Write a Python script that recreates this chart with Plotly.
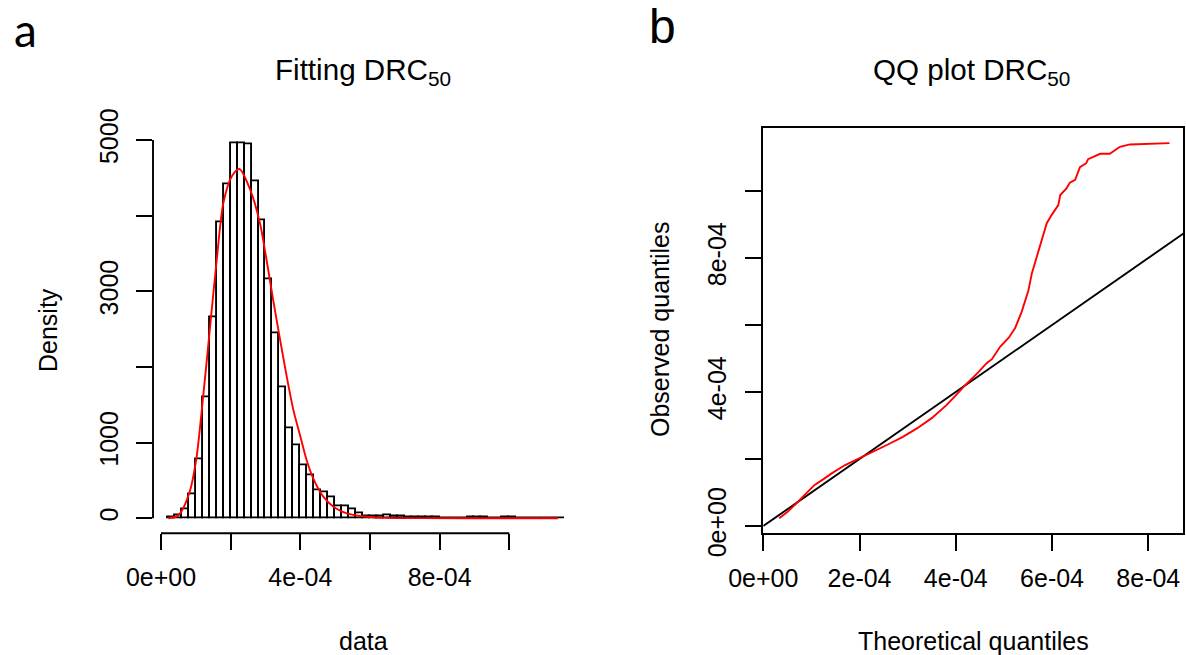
import plotly.graph_objects as go

W, H = 1186, 655

# ---------------- data: histogram (panel a) ----------------
bin_start = 2e-5
bin_width = 2e-5
hist_density = [8, 44, 123, 321, 785, 1595, 2653, 3915, 4409, 4960, 4951, 4938,
                4448, 3933, 3161, 2447, 1733, 1190, 970, 705, 564, 370, 344, 282,
                163, 153, 119, 70, 30, 22, 20, 38, 22, 22, 8, 10, 14, 12, 8, 6,
                5, 6, 5, 8, 14, 12, 5, 4, 8, 8, 6, 5, 4, 4, 5, 4, 4]

# fitted density curve (red)
fit_x = [2.1e-5, 5.0e-5, 8.1e-5, 1.01e-4, 1.21e-4, 1.41e-4, 1.60e-4, 1.79e-4,
         2.03e-4, 2.25e-4, 2.56e-4, 2.84e-4, 3.03e-4, 3.22e-4, 3.42e-4, 3.61e-4,
         3.80e-4, 3.99e-4, 4.18e-4, 4.37e-4, 4.66e-4, 4.95e-4, 5.33e-4, 5.91e-4,
         6.43e-4, 7.44e-4, 9.73e-4, 1.14e-3]
fit_y = [0, 40, 330, 771, 1609, 2535, 3417, 4167, 4519, 4616, 4343, 3902, 3417,
         2888, 2359, 1873, 1433, 1100, 771, 529, 286, 153, 66, 21, 6, 2, 0, 0]

hist_xticks = [0, 4e-4, 8e-4]
hist_xticktext = ["0e+00", "4e-04", "8e-04"]
hist_xminor = [2e-4, 6e-4, 1e-3]
hist_yticks = [0, 1000, 3000, 5000]
hist_yticktext = ["0", "1000", "3000", "5000"]
hist_yminor = [2000, 4000]

# ---------------- data: QQ plot (panel b) ----------------
qq_theo = [3.3e-5, 5.0e-5, 6.9e-5, 8.8e-5, 1.06e-4, 1.25e-4, 1.42e-4, 1.7e-4,
           2.0e-4, 2.3e-4, 2.6e-4, 2.9e-4, 3.2e-4, 3.5e-4, 3.8e-4, 4.0e-4,
           4.2e-4, 4.46e-4, 4.64e-4, 4.75e-4, 4.92e-4, 5.1e-4, 5.23e-4, 5.37e-4,
           5.51e-4, 5.58e-4, 5.68e-4, 5.79e-4, 5.89e-4, 5.99e-4, 6.13e-4, 6.17e-4,
           6.30e-4, 6.37e-4, 6.48e-4, 6.58e-4, 6.71e-4, 6.75e-4, 6.93e-4, 7.00e-4,
           7.20e-4, 7.41e-4, 7.62e-4, 7.97e-4, 8.44e-4]
qq_obs = [2.3e-5, 4.2e-5, 6.8e-5, 9.6e-5, 1.22e-4, 1.40e-4, 1.57e-4, 1.82e-4,
          2.02e-4, 2.24e-4, 2.44e-4, 2.66e-4, 2.92e-4, 3.22e-4, 3.60e-4, 3.90e-4,
          4.21e-4, 4.58e-4, 4.86e-4, 4.98e-4, 5.35e-4, 5.62e-4, 5.90e-4, 6.40e-4,
          7.04e-4, 7.54e-4, 8.00e-4, 8.54e-4, 9.04e-4, 9.28e-4, 9.58e-4, 9.88e-4,
          1.008e-3, 1.025e-3, 1.033e-3, 1.071e-3, 1.083e-3, 1.095e-3, 1.105e-3,
          1.111e-3, 1.111e-3, 1.132e-3, 1.139e-3, 1.140e-3, 1.143e-3]
ref_line = [0, 1.2e-3]  # y = x reference line

qq_xticks = [0, 2e-4, 4e-4, 6e-4, 8e-4]
qq_xticktext = ["0e+00", "2e-04", "4e-04", "6e-04", "8e-04"]
qq_yticks = [0, 4e-4, 8e-4]
qq_yticktext = ["0e+00", "4e-04", "8e-04"]
qq_yminor = [2e-4, 6e-4, 1e-3]


def fx(px):
    return px / W


def fy(py):
    return 1 - py / H


FONT = "Liberation Sans, Arial, sans-serif"
TICKFONT = dict(family=FONT, size=25, color="black")
LW = 1.9

bin_centers = [bin_start + (i + 0.5) * bin_width for i in range(len(hist_density))]

fig = go.Figure()
fig.add_trace(go.Bar(x=bin_centers, y=hist_density, width=bin_width,
                     marker=dict(color="white", line=dict(color="black", width=LW)),
                     xaxis="x", yaxis="y", showlegend=False, hoverinfo="skip"))
fig.add_trace(go.Scatter(x=fit_x, y=fit_y, mode="lines",
                         line=dict(color="#ff0000", width=LW, shape="spline", smoothing=0.8),
                         xaxis="x", yaxis="y", showlegend=False))
fig.add_trace(go.Scatter(x=ref_line, y=ref_line, mode="lines",
                         line=dict(color="black", width=LW),
                         xaxis="x2", yaxis="y2", showlegend=False))
fig.add_trace(go.Scatter(x=qq_theo, y=qq_obs, mode="lines",
                         line=dict(color="#ff0000", width=LW),
                         xaxis="x2", yaxis="y2", showlegend=False))

# pixel geometry
h_left, h_right = 153, 581
top, bottom = 128.3, 533.3
q_left, q_right = 763.3, 1183.3

hx_scale = 348.3 / 1e-3
hy_scale = 75.66 / 1000
h_xrange = [(h_left - 161) / hx_scale, (h_right - 161) / hx_scale]
h_yrange = [(518.3 - bottom) / hy_scale, (518.3 - top) / hy_scale]

qx_scale = 481.25 / 1e-3
qy_scale = 335.0 / 1e-3
q_xrange = [(q_left - 763.3) / qx_scale, (q_right - 763.3) / qx_scale]
q_yrange = [(526 - bottom) / qy_scale, (526 - top) / qy_scale]


def axis_common(minor_vals, standoff):
    d = dict(ticks="outside", ticklen=16, tickwidth=LW, tickcolor="black",
             tickfont=TICKFONT, showgrid=False, zeroline=False,
             automargin=False, tickmode="array", ticklabelstandoff=standoff)
    if minor_vals:
        d["minor"] = dict(tickmode="array", tickvals=minor_vals, ticks="outside",
                          ticklen=16, tickwidth=LW, tickcolor="black", showgrid=False)
    return d


fig.update_layout(
    width=W, height=H, margin=dict(l=0, r=0, t=0, b=0),
    paper_bgcolor="white", plot_bgcolor="white",
    bargap=0,
    xaxis=dict(domain=[fx(h_left), fx(h_right)], range=h_xrange, anchor="y",
               tickvals=hist_xticks, ticktext=hist_xticktext, showline=False,
               **axis_common(hist_xminor, 6)),
    yaxis=dict(domain=[fy(bottom), fy(top)], range=h_yrange, anchor="x",
               tickvals=hist_yticks, ticktext=hist_yticktext, tickangle=-90,
               showline=False, **axis_common(hist_yminor, 8)),
    xaxis2=dict(domain=[fx(q_left), fx(q_right)], range=q_xrange, anchor="y2",
                tickvals=qq_xticks, ticktext=qq_xticktext, showline=True,
                linecolor="black", linewidth=LW, mirror=True,
                **axis_common(None, 6)),
    yaxis2=dict(domain=[fy(bottom), fy(top)], range=q_yrange, anchor="x2",
                tickvals=qq_yticks, ticktext=qq_yticktext, tickangle=-90,
                showline=True, linecolor="black", linewidth=LW, mirror=True,
                **axis_common(qq_yminor, 9)),
)

# R-style axis lines spanning only the tick range (panel a)
fig.add_shape(type="line", xref="x", yref="y domain", x0=0, x1=hist_xminor[-1],
              y0=0, y1=0, line=dict(color="black", width=LW))
fig.add_shape(type="line", xref="x domain", yref="y", x0=0, x1=0,
              y0=hist_yticks[0], y1=hist_yticks[-1], line=dict(color="black", width=LW))

ann_font = dict(family=FONT, size=25, color="black")
title_font = dict(family=FONT, size=29.6, color="black")
anns = [
    dict(text="Fitting DRC<sub>50</sub>", x=fx(363), y=fy(71), font=title_font),
    dict(text="QQ plot DRC<sub>50</sub>", x=fx(972), y=fy(71), font=title_font),
    dict(text="data", x=fx(363), y=fy(641), font=ann_font),
    dict(text="Theoretical quantiles", x=fx(973), y=fy(641), font=ann_font),
    dict(text="Density", x=fx(48), y=fy(330), font=ann_font, textangle=-90),
    dict(text="Observed quantiles", x=fx(660), y=fy(330), font=ann_font, textangle=-90),
    dict(text="a", x=fx(25), y=fy(30), font=dict(family="Lato, sans-serif", size=46, color="black")),
    dict(text="b", x=fx(662), y=fy(27), font=dict(family=FONT, size=48, color="black")),
]
for a in anns:
    a.update(xref="paper", yref="paper", showarrow=False, xanchor="center", yanchor="middle")
    fig.add_annotation(**a)

fig.write_html("out.html")
